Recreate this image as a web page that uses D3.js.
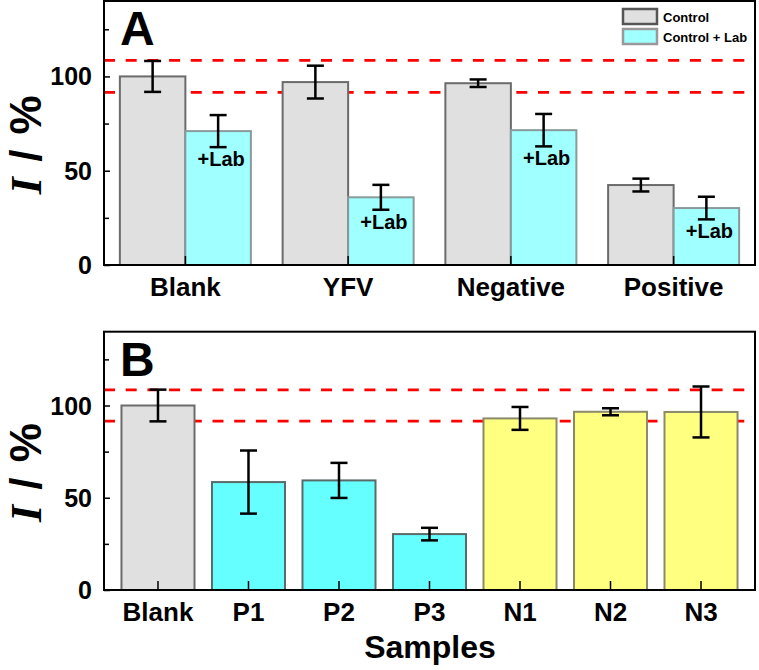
<!DOCTYPE html>
<html>
<head>
<meta charset="utf-8">
<script src="https://cdn.jsdelivr.net/npm/d3@7"></script>
<style>
  body { margin: 0; background: #fff; }
  svg { display: block; font-family: "Liberation Sans", Arial, sans-serif; }
</style>
</head>
<body>
<div id="chart"></div>
<script>
// #### data
// Panel A: grouped bars, control vs control + Lab
const groupsA = ['Blank', 'YFV', 'Negative', 'Positive'];
const controlA = [100, 97, 96.4, 42.4];
const controlErrA = [8.2, 8.7, 2, 3.4];
const labA = [71, 35.9, 71.5, 30.2];
const labErrA = [8.5, 6.6, 8.6, 6];

// Panel B: single bars per sample
const samplesB = ['Blank', 'P1', 'P2', 'P3', 'N1', 'N2', 'N3'];
const valuesB = [100, 58.5, 59.4, 30.3, 93, 96.6, 96.5];
const errB = [8.6, 17.1, 9.5, 3.4, 6.2, 1.9, 13.8];
const kindB = ['blank', 'pos', 'pos', 'pos', 'neg', 'neg', 'neg'];

// red dashed limits, y ticks
const thresholds = [108.5, 91.5];
const majorTicks = [0, 50, 100];
const minorTicks = [25, 75, 125];
const legendLabels = ['Control', 'Control + Lab'];

const width = 759;
const height = 670;
const plotLeft = 104;
const plotRight = 755;

const svg = d3.select('#chart')
  .append('svg')
  .attr('width', width)
  .attr('height', height);

// Draw frame, y axis, dashed lines and x labels for one panel.
const drawPanel = (top, bottom, categories, x, letter) => {
  const y = d3.scaleLinear().domain([0, 140]).range([bottom, top]);
  const g = svg.append('g');

  // dashed reference lines
  g.selectAll('.limit')
    .data(thresholds)
    .enter().append('line')
    .attr('class', 'limit')
    .attr('x1', plotLeft).attr('x2', plotRight)
    .attr('y1', d => y(d)).attr('y2', d => y(d))
    .attr('stroke', '#ff0000')
    .attr('stroke-width', 2.7)
    .attr('stroke-dasharray', '11,10.7');

  // y axis ticks point into the plot
  const yAxis = g.append('g')
    .attr('transform', `translate(${plotLeft},0)`)
    .call(d3.axisRight(y).tickValues(majorTicks).tickSize(6).tickFormat(''));
  yAxis.selectAll('.tick line').attr('stroke', '#000').attr('stroke-width', 1.5);
  yAxis.select('.domain').remove();

  g.append('g')
    .attr('transform', `translate(${plotLeft},0)`)
    .call(d3.axisRight(y).tickValues(minorTicks).tickSize(5).tickFormat(''))
    .call(a => a.select('.domain').remove())
    .selectAll('.tick line').attr('stroke', '#000').attr('stroke-width', 1.5);

  g.selectAll('.ylab')
    .data(majorTicks)
    .enter().append('text')
    .attr('x', 92)
    .attr('y', d => y(d))
    .attr('dy', '0.36em')
    .attr('text-anchor', 'end')
    .attr('font-size', 25)
    .attr('font-weight', 'bold')
    .text(d => d);

  // category labels under the axis
  g.selectAll('.xlab')
    .data(categories)
    .enter().append('text')
    .attr('x', d => x(d) + x.bandwidth() / 2)
    .attr('y', bottom + 31)
    .attr('text-anchor', 'middle')
    .attr('font-size', 26)
    .attr('font-weight', 'bold')
    .text(d => d);

  // y axis title, italic serif I
  const yTitle = g.append('text')
    .attr('transform', `translate(41,${(top + bottom) / 2 + 11}) rotate(-90)`)
    .attr('text-anchor', 'middle')
    .attr('font-size', 44)
    .attr('font-weight', 'bold')
    .attr('letter-spacing', 1.5);
  yTitle.append('tspan')
    .attr('font-family', '"Liberation Serif", "Times New Roman", serif')
    .attr('font-style', 'italic')
    .text('I');
  yTitle.append('tspan').text(' / %');

  g.append('text')
    .attr('x', 120)
    .attr('y', top + 44)
    .attr('font-size', 48)
    .attr('font-weight', 'bold')
    .text(letter);

  return { y, g };
};

// Frame + x ticks drawn after bars so they sit on top.
const drawFrame = (top, bottom, categories, x) => {
  svg.append('g')
    .selectAll('line')
    .data(categories)
    .enter().append('line')
    .attr('x1', d => x(d) + x.bandwidth() / 2)
    .attr('x2', d => x(d) + x.bandwidth() / 2)
    .attr('y1', bottom)
    .attr('y2', bottom - 9)
    .attr('stroke', '#000')
    .attr('stroke-width', 1.5);

  svg.append('rect')
    .attr('x', plotLeft)
    .attr('y', top)
    .attr('width', plotRight - plotLeft)
    .attr('height', bottom - top)
    .attr('fill', 'none')
    .attr('stroke', '#000')
    .attr('stroke-width', 2);
};

const drawErrorBar = (g, cx, y, value, err) => {
  const cap = 8.5;
  g.append('line')
    .attr('x1', cx).attr('x2', cx)
    .attr('y1', y(value + err)).attr('y2', y(value - err))
    .attr('stroke', '#000').attr('stroke-width', 2.5);
  [value + err, value - err].forEach(v => {
    g.append('line')
      .attr('x1', cx - cap).attr('x2', cx + cap)
      .attr('y1', y(v)).attr('y2', y(v))
      .attr('stroke', '#000').attr('stroke-width', 2.5);
  });
};

// #### Panel A
const topA = 1;
const bottomA = 265;
const xA = d3.scaleBand()
  .domain(groupsA)
  .range([plotLeft, plotRight])
  .paddingInner(0.195)
  .paddingOuter(0.0975);
const xSub = d3.scaleBand()
  .domain(legendLabels)
  .range([0, xA.bandwidth()]);

const panelA = drawPanel(topA, bottomA, groupsA, xA, 'A');
const yA = panelA.y;

const seriesA = [
  { key: legendLabels[0], values: controlA, errs: controlErrA, fill: '#e0e0e0', stroke: '#6b6b6b' },
  { key: legendLabels[1], values: labA, errs: labErrA, fill: '#a0ffff', stroke: '#8a9a9a' },
];

const barsA = svg.append('g');
seriesA.forEach(s => {
  groupsA.forEach((grp, i) => {
    const bx = xA(grp) + xSub(s.key);
    barsA.append('rect')
      .attr('x', bx)
      .attr('y', yA(s.values[i]))
      .attr('width', xSub.bandwidth())
      .attr('height', yA(0) - yA(s.values[i]))
      .attr('fill', s.fill)
      .attr('stroke', s.stroke)
      .attr('stroke-width', 2);
  });
});
seriesA.forEach(s => {
  groupsA.forEach((grp, i) => {
    const cx = xA(grp) + xSub(s.key) + xSub.bandwidth() / 2;
    drawErrorBar(barsA, cx, yA, s.values[i], s.errs[i]);
  });
});

// "+Lab" tags under the Lab error bars
barsA.selectAll('.labtag')
  .data(groupsA)
  .enter().append('text')
  .attr('x', d => xA(d) + xSub(legendLabels[1]) + xSub.bandwidth() / 2 + 3)
  .attr('y', (d, i) => yA(labA[i] - labErrA[i]) + 19)
  .attr('text-anchor', 'middle')
  .attr('font-size', 20)
  .attr('font-weight', 'bold')
  .text('+Lab');

drawFrame(topA, bottomA, groupsA, xA);

// legend
const legend = svg.append('g')
  .selectAll('g')
  .data(seriesA)
  .enter().append('g')
  .attr('transform', (d, i) => `translate(623,${9 + i * 20})`);
legend.append('rect')
  .attr('width', 34)
  .attr('height', 15)
  .attr('fill', d => d.fill)
  .attr('stroke', (d, i) => i === 0 ? '#555' : '#999')
  .attr('stroke-width', 2.5);
legend.append('text')
  .attr('x', 40)
  .attr('y', 12.5)
  .attr('font-size', 13)
  .attr('font-weight', 'bold')
  .text(d => d.key);

// #### Panel B
const topB = 331.7;
const bottomB = 590;
const xB = d3.scaleBand()
  .domain(samplesB)
  .range([plotLeft, plotRight])
  .paddingInner(0.193)
  .paddingOuter(0.193);

const panelB = drawPanel(topB, bottomB, samplesB, xB, 'B');
const yB = panelB.y;

const fillB = { blank: '#e0e0e0', pos: '#66ffff', neg: '#ffff80' };
const strokeB = { blank: '#6b6b6b', pos: '#5a6a6a', neg: '#8a8a6a' };

const barsB = svg.append('g');
barsB.selectAll('rect')
  .data(samplesB)
  .enter().append('rect')
  .attr('x', d => xB(d))
  .attr('y', (d, i) => yB(valuesB[i]))
  .attr('width', xB.bandwidth())
  .attr('height', (d, i) => yB(0) - yB(valuesB[i]))
  .attr('fill', (d, i) => fillB[kindB[i]])
  .attr('stroke', (d, i) => strokeB[kindB[i]])
  .attr('stroke-width', 2);
samplesB.forEach((s, i) => {
  drawErrorBar(barsB, xB(s) + xB.bandwidth() / 2, yB, valuesB[i], errB[i]);
});

drawFrame(topB, bottomB, samplesB, xB);

// x axis title
svg.append('text')
  .attr('x', 430)
  .attr('y', 658)
  .attr('text-anchor', 'middle')
  .attr('font-size', 32)
  .attr('font-weight', 'bold')
  .text('Samples');
</script>
</body>
</html>
